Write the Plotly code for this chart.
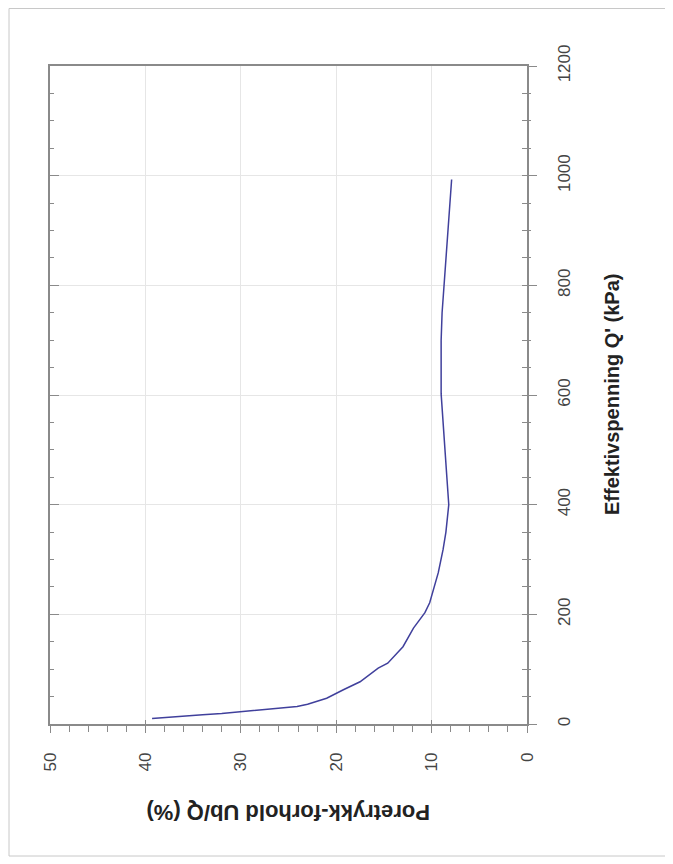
import plotly.graph_objects as go

# Data read from the (rotated) reference chart
pore_ratio_pct = [39.3, 38.6, 37.8, 36.0, 34.0, 32.0, 30.1, 28.0, 26.0, 24.1, 23.0, 22.0,
                  21.0, 19.3, 17.5, 15.6, 14.6, 13.0, 11.9, 10.7, 10.2, 9.3, 8.8, 8.5,
                  8.2, 8.4, 8.6, 8.8, 9.0, 9.0, 9.0, 8.9, 8.7, 8.3, 7.9]
eff_stress_kpa = [10, 11, 12, 14, 17, 19, 22, 25, 28, 32, 36, 41,
                  47, 62, 77, 102, 111, 141, 175, 203, 221, 276, 318, 350,
                  400, 450, 500, 550, 602, 664, 700, 750, 801, 900, 993]

pct_ticks = [0, 10, 20, 30, 40, 50]
kpa_ticks = [0, 200, 400, 600, 800, 1000, 1200]

# page has an 8px body margin, so the figure is sized to fit inside it
OFF = 8
W, H = 673 - OFF, 864 - OFF
L, T = 50 - OFF, 66 - OFF
R = W - (527 - OFF)
B = H - (724 - OFF)
pw, ph = W - L - R, H - T - B


def px_x(page_x):
    return (page_x - OFF - L) / pw


def px_y(page_y):
    return (T + ph - (page_y - OFF)) / ph


FONT = "Liberation Sans, Arial, sans-serif"
AX = "#8a8a8a"
GRID = "#e6e6e6"

fig = go.Figure()
fig.add_trace(go.Scatter(x=pore_ratio_pct, y=eff_stress_kpa, mode="lines",
                         line=dict(color="#40409c", width=1.5), showlegend=False,
                         hoverinfo="skip"))
# invisible helpers so overlay axes get drawn
for xa, ya in [("x2", "y"), ("x", "y2"), ("x", "y3")]:
    fig.add_trace(go.Scatter(x=pore_ratio_pct, y=eff_stress_kpa, mode="lines",
                             line=dict(color="rgba(0,0,0,0)", width=0), xaxis=xa, yaxis=ya,
                             showlegend=False, hoverinfo="skip"))

fig.update_layout(
    width=W, height=H,
    margin=dict(l=L, r=R, t=T, b=B),
    paper_bgcolor="white", plot_bgcolor="white",
    font=dict(family=FONT, color="#333333"),
    xaxis=dict(range=[50, 0], tickvals=pct_ticks, ticktext=[str(v) for v in pct_ticks],
               tickangle=-90, tickfont=dict(size=17, color="#444444"),
               ticks="outside", ticklen=7, tickcolor=AX, tickwidth=1,
               minor=dict(dtick=2, ticks="outside", ticklen=6, tickcolor=AX, showgrid=False),
               showgrid=True, gridcolor=GRID, gridwidth=1,
               showline=True, linecolor=AX, linewidth=1.5, mirror=True,
               zeroline=False, ticklabelstandoff=13, fixedrange=True),
    xaxis2=dict(overlaying="x", anchor="y", side="bottom", range=[50, 0],
                tickvals=pct_ticks, showticklabels=False, ticks="inside", ticklen=4,
                tickcolor=AX, showgrid=False, showline=False, zeroline=False),
    yaxis=dict(range=[0, 1200], tickvals=kpa_ticks, ticktext=[str(v) for v in kpa_ticks],
               side="right", tickangle=-90, tickfont=dict(size=17, color="#444444"),
               ticks="outside", ticklen=8, tickcolor=AX, tickwidth=1,
               minor=dict(dtick=50, ticks="outside", ticklen=2, tickcolor=AX, showgrid=False),
               showgrid=True, gridcolor=GRID, gridwidth=1,
               showline=True, linecolor=AX, linewidth=1.5, mirror=True,
               zeroline=False, ticklabelstandoff=13, fixedrange=True),
    yaxis2=dict(overlaying="y", anchor="x", side="right", range=[0, 1200],
                tickvals=kpa_ticks, showticklabels=False, ticks="inside", ticklen=5,
                tickcolor=AX,
                minor=dict(dtick=50, ticks="inside", ticklen=5, tickcolor=AX, showgrid=False),
                showgrid=False, showline=False, zeroline=False),
    yaxis3=dict(overlaying="y", anchor="x", side="left", range=[0, 1200],
                tickvals=kpa_ticks, showticklabels=False, ticks="inside", ticklen=9,
                tickcolor=AX,
                minor=dict(dtick=50, ticks="inside", ticklen=4, tickcolor=AX, showgrid=False),
                showgrid=False, showline=False, zeroline=False),
)

# outer frame
fig.add_shape(type="rect", xref="paper", yref="paper",
              x0=px_x(9), x1=px_x(669),
              y0=px_y(856), y1=(T + ph - 0.5) / ph,
              line=dict(color="#c8c8c8", width=1), fillcolor="rgba(0,0,0,0)", layer="below")

# axis titles (rotated chart)
fig.add_annotation(text="<b>Effektivspenning Q' (kPa)</b>", textangle=-90,
                   xref="paper", yref="paper",
                   x=px_x(612), y=0.5, xanchor="center", yanchor="middle",
                   showarrow=False, font=dict(size=20, color="#222222", family=FONT))
fig.add_annotation(text="<b>Poretrykk-forhold Ub/Q (%)</b>", textangle=180,
                   xref="paper", yref="paper",
                   x=0.5, y=px_y(812), xanchor="center", yanchor="middle",
                   showarrow=False, font=dict(size=22, color="#222222", family=FONT))

fig.write_html("out.html")
